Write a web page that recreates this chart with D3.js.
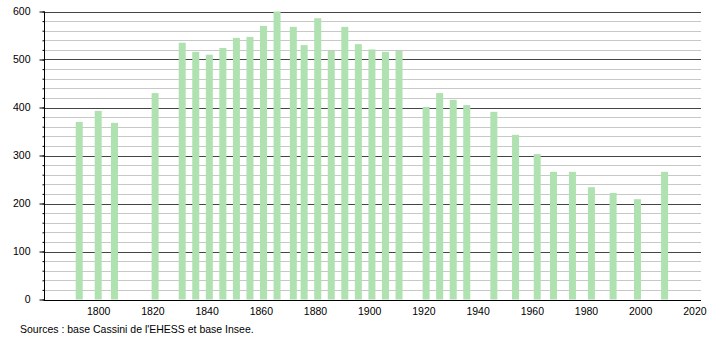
<!DOCTYPE html>
<html>
<head>
<meta charset="utf-8">
<script src="https://cdn.jsdelivr.net/npm/d3@7"></script>
<style>
  body { margin: 0; background: #fff; }
  text { font-family: "Liberation Sans", Arial, sans-serif; }
</style>
</head>
<body>
<div id="chart"></div>
<script>
// années de recensement et population
const years = [1793, 1800, 1806, 1821, 1831, 1836, 1841, 1846, 1851, 1856, 1861, 1866,
  1872, 1876, 1881, 1886, 1891, 1896, 1901, 1906, 1911, 1921, 1926, 1931, 1936,
  1946, 1954, 1962, 1968, 1975, 1982, 1990, 1999, 2009];
const population = [370, 393, 368, 430, 535, 516, 510, 524, 545, 547, 570, 600,
  568, 530, 586, 518, 568, 532, 521, 516, 518, 401, 430, 416, 405,
  391, 343, 303, 266, 266, 234, 222, 209, 266];
const xTicks = [1800, 1820, 1840, 1860, 1880, 1900, 1920, 1940, 1960, 1980, 2000, 2020];
const yTicks = [0, 100, 200, 300, 400, 500, 600];
const source = "Sources : base Cassini de l'EHESS et base Insee.";

const width = 710, height = 340;
const plotLeft = 44, plotRight = 701, plotTop = 11.5, plotBottom = 299.5;

const x = d3.scaleLinear().domain([1780, 2020]).range([plotLeft, 694.4]);
const y = d3.scaleLinear().domain([0, 600]).range([plotBottom, plotTop]);

const svg = d3.select('#chart').append('svg')
  .attr('width', width)
  .attr('height', height);

// grille secondaire (tous les 20)
const minor = d3.range(20, 601, 20).filter(v => v % 100 !== 0);
svg.append('g').selectAll('line')
  .data(minor)
  .enter().append('line')
  .attr('x1', plotLeft).attr('x2', plotRight)
  .attr('y1', d => Math.round(y(d)) + 0.5)
  .attr('y2', d => Math.round(y(d)) + 0.5)
  .attr('stroke', '#c8c8c8');

// grille principale
svg.append('g').selectAll('line')
  .data(yTicks.slice(1))
  .enter().append('line')
  .attr('x1', plotLeft).attr('x2', plotRight)
  .attr('y1', d => Math.round(y(d)) + 0.5)
  .attr('y2', d => Math.round(y(d)) + 0.5)
  .attr('stroke', '#444');

// barres
const barW = 7;
svg.append('g').selectAll('rect')
  .data(years)
  .enter().append('rect')
  .attr('x', d => x(d) - barW / 2)
  .attr('y', (d, i) => y(population[i]))
  .attr('width', barW)
  .attr('height', (d, i) => plotBottom - y(population[i]))
  .attr('fill', '#afe2b0');

// axe y avec petites graduations
svg.append('g')
  .attr('transform', `translate(${plotLeft + 0.5},0)`)
  .call(d3.axisLeft(y).tickValues(d3.range(0, 601, 20)).tickSize(2).tickFormat(''))
  .call(g => g.select('.domain').remove());

svg.append('g')
  .attr('transform', `translate(${plotLeft + 0.5},0)`)
  .call(d3.axisLeft(y).tickValues(yTicks).tickSize(5).tickPadding(9))
  .call(g => g.select('.domain').remove())
  .call(g => g.selectAll('text')
    .attr('font-size', '10.5px')
    .attr('font-family', '"Liberation Sans", Arial, sans-serif')
    .attr('fill', '#000'));

// axe x
svg.append('g')
  .attr('transform', `translate(0,${Math.round(plotBottom) + 0.5})`)
  .call(d3.axisBottom(x).tickValues(xTicks).tickSize(0).tickPadding(7).tickFormat(d3.format('d')))
  .call(g => g.select('.domain').remove())
  .call(g => g.selectAll('text')
    .attr('font-size', '10.5px')
    .attr('font-family', '"Liberation Sans", Arial, sans-serif')
    .attr('fill', '#000'));

svg.append('line')
  .attr('x1', plotLeft).attr('x2', plotRight)
  .attr('y1', Math.round(plotBottom) + 0.5).attr('y2', Math.round(plotBottom) + 0.5)
  .attr('stroke', '#000');

svg.append('line')
  .attr('x1', plotLeft + 0.5).attr('x2', plotLeft + 0.5)
  .attr('y1', plotTop).attr('y2', plotBottom + 0.5)
  .attr('stroke', '#000');

// source
svg.append('text')
  .attr('x', 20)
  .attr('y', 333)
  .attr('font-size', '10.5px')
  .text(source);
</script>
</body>
</html>
